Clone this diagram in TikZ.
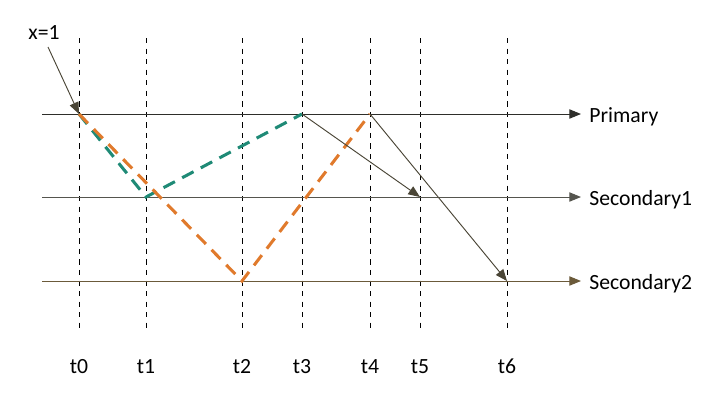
\documentclass[tikz,border=0pt]{standalone}
\usepackage{fontspec}
\setmainfont{Carlito}
\usepackage{tikz}
\usetikzlibrary{arrows.meta, positioning, calc}
\definecolor{LineDark}{HTML}{2E2E2A}
\definecolor{LineGrey}{HTML}{55554E}
\definecolor{LineOlive}{HTML}{6B5A3A}
\definecolor{MsgArrow}{HTML}{4A4536}
\definecolor{PathTeal}{HTML}{1F8A76}
\definecolor{PathOrange}{HTML}{E07A2C}
\tikzset{
  timeline/.style={black, line width=0.7pt, dash pattern=on 4.5pt off 4.5pt},
  channel/.style={-{Triangle[length=10pt, width=8pt]}, line width=0.8pt},
  msgarrow/.style={-{Triangle[length=10pt, width=8pt]}, MsgArrow, line width=0.8pt},
  tealpath/.style={PathTeal, line width=2.6pt, dash pattern=on 11pt off 7pt},
  orangepath/.style={PathOrange, line width=2.6pt, dash pattern=on 11pt off 7pt},
  lbl/.style={font=\fontsize{18.5}{20}\selectfont, inner sep=1pt}
}
\begin{document}
\begin{tikzpicture}[x=0.03cm, y=-0.03cm]
  \useasboundingbox (0,0) rectangle (726,410);

  % time lines
  \foreach \name/\xx in {0/79, 1/146, 2/242, 3/302, 4/370, 5/420, 6/507} {
    \draw[timeline] (\xx,38) -- (\xx,332);
    \node[lbl, anchor=base] (t\name) at (\xx,373) {t\name};
  }

  % channels
  \coordinate (pstart) at (42,114);
  \coordinate (s1start) at (42,197);
  \coordinate (s2start) at (42,281);
  \coordinate (pend) at (581,114);
  \coordinate (s1end) at (581,197);
  \coordinate (s2end) at (581,281);
  \draw[channel, LineDark] (pstart) -- (pend);
  \draw[channel, LineGrey] (s1start) -- (s1end);
  \draw[channel, LineOlive] (s2start) -- (s2end);
  \node[lbl, right=6pt of pend, yshift=-2pt] (primary) {Primary};
  \node[lbl, right=6pt of s1end, yshift=-2pt] (sec1) {Secondary1};
  \node[lbl, right=6pt of s2end, yshift=-2pt] (sec2) {Secondary2};

  % events
  \coordinate (a0) at (79,114);
  \coordinate (b1) at (146,197);
  \coordinate (c2) at (242,281);
  \coordinate (a3) at (302,114);
  \coordinate (a4) at (370,114);
  \coordinate (b5) at (420,197);
  \coordinate (c6) at (507,281);

  \node[lbl] (xone) at (44,33) {x=1};
  \draw[msgarrow] (48,47) -- (a0);

  \draw[tealpath] (a0) -- (b1) -- (a3);
  \draw[orangepath] (a0) -- (c2) -- (a4);

  \draw[msgarrow] (a3) -- (b5);
  \draw[msgarrow] (a4) -- (c6);
\end{tikzpicture}
\end{document}
